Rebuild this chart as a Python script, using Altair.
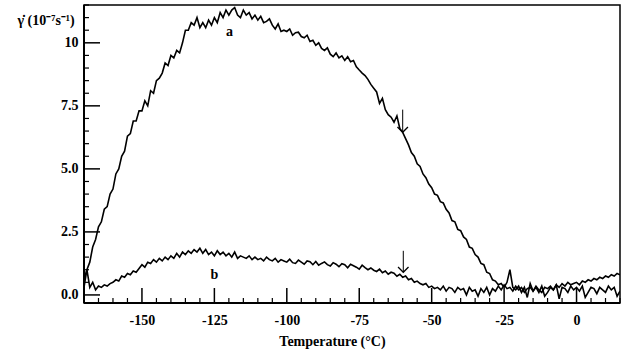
import altair as alt
import pandas as pd

temps = list(range(-170, 16))

curve_a = [
    0.3, 1.0, 1.3, 1.9, 2.2, 2.7, 2.9, 3.4, 3.5, 4.0,
    4.2, 4.8, 5.0, 5.5, 5.7, 6.3, 6.4, 6.9, 6.9, 7.3,
    7.3, 7.7, 7.5, 8.1, 8.0, 8.5, 8.6, 8.8, 9.2, 9.1,
    9.5, 9.4, 9.7, 9.6, 10.0, 10.5, 10.5, 10.8, 10.7, 11.0,
    10.6, 10.8, 10.6, 10.9, 10.7, 11.0, 10.8, 11.2, 11.0, 11.3,
    11.1, 11.3, 11.4, 11.1, 11.0, 11.3, 11.1, 11.2, 10.95, 11.1,
    10.9, 11.05, 10.8, 10.85, 10.95, 10.7, 10.55, 10.75, 10.45, 10.5,
    10.45, 10.55, 10.3, 10.4, 10.42, 10.25, 10.2, 10.3, 10.05, 10.1,
    9.9, 10.0, 9.78, 9.7, 9.8, 9.55, 9.45, 9.6, 9.4, 9.48,
    9.3, 9.45, 9.25, 9.3, 9.05, 8.92, 8.8, 8.7, 8.55, 8.35,
    8.2, 8.05, 7.6, 7.8, 7.35, 7.15, 7.05, 6.85, 7.1, 6.6,
    6.45, 6.2, 5.95, 5.65, 5.5, 5.2, 5.1, 4.8, 4.65, 4.4,
    4.25, 4.0, 3.95, 3.7, 3.65, 3.4, 3.25, 2.95, 2.9, 2.6,
    2.55, 2.3, 2.2, 1.9, 1.85, 1.6, 1.5, 1.25, 1.2, 0.9,
    0.85, 0.6, 0.55, 0.4, 0.45, 0.3, 0.5, 1.0, 0.3, 0.2,
    0.35, 0.1, 0.3, -0.1, 0.45, 0.15, 0.3, 0.1, 0.35, -0.05,
    0.1, 0.3, 0.2, 0.4, -0.15, 0.3, 0.25, 0.1, 0.35, 0.2,
    0.3, 0.15, 0.35, -0.1, 0.1, 0.3, 0.25, 0.05, 0.3, 0.2,
    0.1, 0.35, 0.2, 0.3, -0.05, 0.15,
]

curve_b = [
    0.6, 1.0, 0.3, 0.5, 0.2, 0.35, 0.3, 0.4, 0.35, 0.45,
    0.5, 0.6, 0.55, 0.75, 0.7, 0.85, 0.8, 0.95, 0.9, 1.05,
    1.2, 1.1, 1.3, 1.25, 1.4, 1.3, 1.45, 1.35, 1.5, 1.4,
    1.55, 1.45, 1.65, 1.5, 1.7, 1.6, 1.75, 1.65, 1.8, 1.7,
    1.85, 1.65, 1.8, 1.6, 1.7, 1.55, 1.75, 1.6, 1.7, 1.55,
    1.65, 1.5, 1.7, 1.45, 1.55, 1.5, 1.45, 1.55, 1.4, 1.5,
    1.4, 1.45, 1.35, 1.5, 1.4, 1.35, 1.45, 1.3, 1.4, 1.35,
    1.3, 1.42, 1.28, 1.25, 1.38, 1.3, 1.22, 1.35, 1.32, 1.2,
    1.33, 1.18, 1.25, 1.31, 1.2, 1.15, 1.28, 1.22, 1.12, 1.24,
    1.2, 1.08, 1.22, 1.16, 1.1, 1.02, 1.18, 1.08, 1.0, 1.07,
    0.98, 0.93, 1.02, 0.88, 0.95, 0.82, 0.9, 0.86, 0.74, 0.82,
    0.7, 0.75, 0.6, 0.65, 0.5, 0.55, 0.45, 0.4, 0.45, 0.3,
    0.35, 0.25, 0.3, 0.2, 0.35, 0.15, 0.3, 0.25, 0.1, 0.3,
    0.2, 0.25, 0.0, 0.3, 0.15, 0.2, -0.05, 0.25, 0.1, 0.3,
    0.0, 0.25, 0.15, 0.35, 0.2, 0.4, 0.25, 0.3, 0.15, 0.35,
    0.2, 0.3, 0.1, 0.25, 0.3, 0.15, 0.35, 0.2, 0.1, 0.3,
    0.25, 0.35, 0.2, 0.4, 0.3, 0.45, 0.35, 0.5, 0.4, 0.45,
    0.5, 0.4, 0.55, 0.5, 0.6, 0.55, 0.65, 0.6, 0.7, 0.65,
    0.75, 0.7, 0.8, 0.75, 0.85, 0.8,
]

x_major = [-150, -125, -100, -75, -50, -25, 0]
x_minor = [t for t in range(-165, 16, 5) if t not in x_major]
y_major = [0.0, 2.5, 5.0, 7.5, 10.0]
y_minor = [v / 2 for v in range(0, 24) if (v / 2) not in y_major]

label_text = ["a", "b"]
label_x = [-119.8, -125.0]
label_y = [10.43, 0.8]

arrow_x = [-60.0, -59.8]
arrow_top = [7.35, 1.75]
arrow_tip = [6.45, 0.9]

W, H = 536, 298
XDOM = [-170, 15]
YDOM = [-0.32, 11.5]
SERIF = "Liberation Serif"

df = pd.DataFrame({
    "T": temps * 2,
    "v": curve_a + curve_b,
    "s": ["a"] * len(temps) + ["b"] * len(temps),
})

xs = alt.Scale(domain=XDOM, nice=False, zero=False)
ys = alt.Scale(domain=YDOM, nice=False, zero=False)

xaxis = alt.Axis(
    values=x_major, ticks=False, domain=False, grid=False,
    labelFont=SERIF, labelFontWeight="bold", labelFontSize=14, labelColor="black",
    labelPadding=10, labelExpr="datum.value",
    title="Temperature (°C)", titleFont=SERIF, titleFontWeight="bold",
    titleFontSize=14, titleColor="black", titleX=248, titleY=31,
    titleBaseline="top", titleAlign="center",
)
yaxis = alt.Axis(
    values=y_major, ticks=False, domain=False, grid=False,
    labelFont=SERIF, labelFontWeight="bold", labelFontSize=14, labelColor="black",
    labelPadding=6,
    labelExpr="datum.value == 10 ? '10' : format(datum.value, '.1f')",
    title="γ̇  (10⁻⁷s⁻¹)", titleFont=SERIF, titleFontWeight="bold",
    titleFontSize=14, titleColor="black", titleAngle=0, titleAlign="left",
    titleBaseline="middle", titleX=-67, titleY=15,
)

lines = alt.Chart(df).mark_line(color="black", strokeWidth=1.6, clip=True).encode(
    x=alt.X("T:Q", scale=xs, axis=xaxis),
    y=alt.Y("v:Q", scale=ys, axis=yaxis),
    detail="s:N",
)

xmaj = alt.Chart(pd.DataFrame({"t": x_major})).mark_rule(color="black", strokeWidth=1.5).encode(
    x=alt.X("t:Q", scale=xs), y=alt.value(H), y2=alt.value(H - 15))
xmin = alt.Chart(pd.DataFrame({"t": x_minor})).mark_rule(color="black", strokeWidth=1.2).encode(
    x=alt.X("t:Q", scale=xs), y=alt.value(H), y2=alt.value(H - 5))
ymaj = alt.Chart(pd.DataFrame({"v": y_major})).mark_rule(color="black", strokeWidth=1.5).encode(
    y=alt.Y("v:Q", scale=ys), x=alt.value(0), x2=alt.value(16))
ymin = alt.Chart(pd.DataFrame({"v": y_minor})).mark_rule(color="black", strokeWidth=1.2).encode(
    y=alt.Y("v:Q", scale=ys), x=alt.value(0), x2=alt.value(5))

bottom_line = alt.Chart(pd.DataFrame({"k": [0]})).mark_rule(color="black", strokeWidth=2).encode(
    x=alt.value(0), x2=alt.value(W), y=alt.value(H))
left_line = alt.Chart(pd.DataFrame({"k": [0]})).mark_rule(color="black", strokeWidth=2).encode(
    x=alt.value(0), y=alt.value(0), y2=alt.value(H))

labels = alt.Chart(pd.DataFrame({"t": label_text, "x": label_x, "y": label_y})).mark_text(
    font=SERIF, fontWeight="bold", fontSize=14, color="black", baseline="middle"
).encode(x=alt.X("x:Q", scale=xs), y=alt.Y("y:Q", scale=ys), text="t:N")

adf = pd.DataFrame({"x": arrow_x, "top": arrow_top, "tip": arrow_tip})
shafts = alt.Chart(adf).mark_rule(color="black", strokeWidth=1).encode(
    x=alt.X("x:Q", scale=xs), y=alt.Y("top:Q", scale=ys), y2="tip:Q")
heads = alt.Chart(adf).mark_point(
    shape="M-1,-1L0,0L1,-1", filled=False, color="black", strokeWidth=1.3, size=110, opacity=1
).encode(x=alt.X("x:Q", scale=xs), y=alt.Y("tip:Q", scale=ys))

chart = alt.layer(
    xmin, xmaj, ymin, ymaj, lines, labels, shafts, heads, bottom_line, left_line
).properties(
    width=W, height=H,
    padding={"left": 84, "top": 5, "right": 6, "bottom": 48},
    autosize=alt.AutoSizeParams(type="none"),
    background="white",
).configure_view(stroke="black", strokeWidth=1.5)

chart.save("out.html", embed_options={"renderer": "svg", "actions": False})
